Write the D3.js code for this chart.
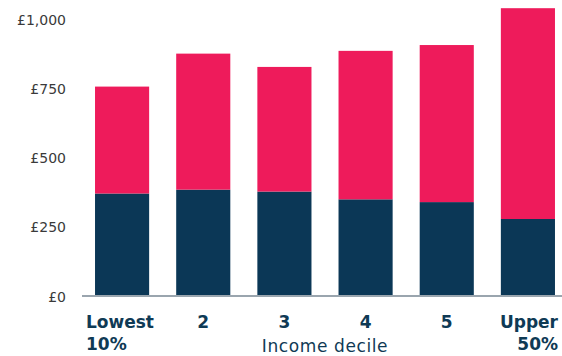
<!DOCTYPE html>
<html>
<head>
<meta charset="utf-8">
<script src="https://cdn.jsdelivr.net/npm/d3@7"></script>
<style>
  body { margin: 0; background: #fff; }
  svg { display: block; }
  text { font-family: "DejaVu Sans", "Open Sans", sans-serif; }
</style>
</head>
<body>
<svg id="chart" width="562" height="356"></svg>
<script>
// Income deciles and the two stacked components (£)
const categories = ["Lowest 10%", "2", "3", "4", "5", "Upper 50%"];
const baseValues = [370, 384, 377, 349, 339, 278];
const topValues = [386, 491, 450, 536, 567, 761];
const yTicks = [0, 250, 500, 750, 1000];

const colors = { base: "#0b3756", top: "#ee1b5b", axis: "#9aa5ae", tick: "#3a3a3a", label: "#0f3a55" };

const svg = d3.select("#chart");

const x = d3.scaleBand()
  .domain(categories)
  .range([81.5, 568.5])
  .paddingInner(1 / 3)
  .paddingOuter(1 / 6);

const y = d3.scaleLinear()
  .domain([0, 1000])
  .range([296, 19]);

const rows = categories.map((c, i) => ({ cat: c, base: baseValues[i], top: topValues[i] }));
const stacked = d3.stack().keys(["base", "top"])(rows);

svg.append("g")
  .selectAll("g")
  .data(stacked)
  .join("g")
  .attr("fill", d => colors[d.key])
  .selectAll("rect")
  .data(d => d)
  .join("rect")
  .attr("x", d => x(d.data.cat))
  .attr("width", x.bandwidth())
  .attr("y", d => y(d[1]))
  .attr("height", d => y(d[0]) - y(d[1]));

// Y axis labels (no line)
const yAxis = d3.axisLeft(y)
  .tickValues(yTicks)
  .tickSize(0)
  .tickPadding(0)
  .tickFormat(d => "£" + d3.format(",")(d));

svg.append("g")
  .attr("transform", "translate(66,0)")
  .call(yAxis)
  .call(g => g.select(".domain").remove())
  .call(g => g.selectAll("text")
    .attr("fill", colors.tick)
    .attr("font-family", "\"DejaVu Sans\", sans-serif")
    .attr("font-size", 14)
    .attr("dy", "0.36em"));

// Baseline
svg.append("line")
  .attr("x1", 82).attr("x2", 562)
  .attr("y1", y(0)).attr("y2", y(0))
  .attr("stroke", colors.axis)
  .attr("stroke-width", 2);

// Category labels
const labelG = svg.append("g")
  .attr("font-size", 17)
  .attr("font-weight", 700)
  .attr("fill", colors.label);

categories.forEach((c, i) => {
  const parts = c.split(" ");
  let anchor = "middle", xPos = x(c) + x.bandwidth() / 2;
  if (i === 0) { anchor = "start"; xPos = 86; }
  if (i === categories.length - 1) { anchor = "end"; xPos = 558; }
  const t = labelG.append("text")
    .attr("text-anchor", anchor)
    .attr("x", xPos)
    .attr("y", 328);
  parts.forEach((p, j) => {
    t.append("tspan")
      .attr("x", xPos)
      .attr("dy", j === 0 ? 0 : 22)
      .text(p);
  });
});

// Axis title
svg.append("text")
  .attr("x", (x(categories[0]) + x(categories[5]) + x.bandwidth()) / 2)
  .attr("y", 352)
  .attr("text-anchor", "middle")
  .attr("font-size", 17)
  .attr("letter-spacing", 0.6)
  .attr("fill", colors.label)
  .text("Income decile");
</script>
</body>
</html>
